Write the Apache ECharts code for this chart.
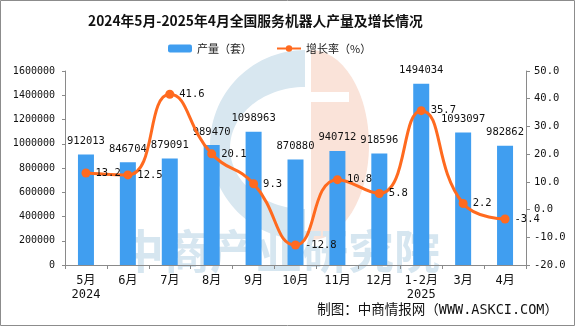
<!DOCTYPE html>
<html>
<head>
<meta charset="utf-8">
<script src="https://cdn.jsdelivr.net/npm/echarts@6/dist/echarts.min.js"></script>
<style>html,body{margin:0;padding:0;background:#fff}#c{width:575px;height:326px}</style>
</head>
<body>
<div id="c"></div>
<script>
const categories = ['5月\n2024','6月','7月','8月','9月','10月','11月','12月','1-2月\n2025','3月','4月'];
const production = [912013, 846704, 879091, 989470, 1098963, 870880, 940712, 918596, 1494034, 1093097, 982862];
const growth = [13.2, 12.5, 41.6, 20.1, 9.3, -12.8, 10.8, 5.8, 35.7, 2.2, -3.4];
const leftTicks = {min: 0, max: 1600000, interval: 200000};
const rightTicks = {min: -20, max: 50, interval: 10};

const MONO = "'DejaVu Sans Mono', 'Noto Sans CJK SC', monospace";
const CJK = "'Noto Sans CJK SC', sans-serif";
const axisColor = '#8a8a8a';

// watermark logo outlines (decorative)
function arcPts(cx, cy, rx, ry, a0, a1, n) {
  const pts = [];
  for (let i = 0; i <= n; i++) {
    const a = (a0 + (a1 - a0) * i / n) * Math.PI / 180;
    pts.push([cx + rx * Math.cos(a), cy + ry * Math.sin(a)]);
  }
  return pts;
}
const blueC = arcPts(305, 145, 95, 95, 270, 90, 60).concat(arcPts(305, 148, 75, 61, 90, 270, 60));
const orangeD = arcPts(311, 145, 58, 95, -90, 90, 60);

const chart = echarts.init(document.getElementById('c'), null, {renderer: 'canvas'});
chart.setOption({
  animation: false,
  backgroundColor: '#fff',
  title: {
    text: '2024年5月-2025年4月全国服务机器人产量及增长情况',
    left: 83, top: 9,
    textStyle: {fontFamily: CJK, fontSize: 13.8, fontWeight: 'bold', color: '#111'}
  },
  legend: {
    left: 163, top: 38,
    itemWidth: 24, itemHeight: 8, itemGap: 24,
    textStyle: {fontFamily: CJK, fontSize: 11, color: '#222'},
    data: ['产量（套）', '增长率（%）']
  },
  grid: {left: 65, right: 49, top: 71, bottom: 61, containLabel: false},
  xAxis: {
    type: 'category',
    data: categories,
    boundaryGap: true,
    axisLine: {lineStyle: {color: axisColor, width: 1}},
    axisTick: {show: true, alignWithLabel: false, length: 4, lineStyle: {color: axisColor}},
    axisLabel: {interval: 0, margin: 9, color: '#111', fontFamily: MONO, fontSize: 12, lineHeight: 14}
  },
  yAxis: [
    {
      type: 'value', min: leftTicks.min, max: leftTicks.max, interval: leftTicks.interval,
      axisLine: {show: true, lineStyle: {color: axisColor}},
      axisTick: {show: true, length: 3, lineStyle: {color: axisColor}},
      splitLine: {show: false},
      axisLabel: {color: '#111', fontFamily: MONO, fontSize: 10, margin: 10,
        formatter: v => String(v)}
    },
    {
      type: 'value', min: rightTicks.min, max: rightTicks.max, interval: rightTicks.interval,
      position: 'right',
      axisLine: {show: true, lineStyle: {color: axisColor}},
      axisTick: {show: true, length: 4, lineStyle: {color: axisColor}},
      splitLine: {show: false},
      axisLabel: {color: '#111', fontFamily: MONO, fontSize: 10.5, margin: 8,
        formatter: v => v.toFixed(1)}
    }
  ],
  graphic: [
    {type: 'polygon', z: -10, silent: true,
      shape: {points: blueC},
      style: {fill: '#d8e7f0'}},
    {type: 'polygon', z: -10, silent: true,
      shape: {points: orangeD},
      style: {fill: '#fae3d9'}},
    {type: 'rect', z: -9, silent: true,
      shape: {x: 309, y: 92, width: 40, height: 10},
      style: {fill: '#fff'}},
    {type: 'text', z: -8, silent: true, left: 118, top: 228,
      style: {text: '中商产业研究院', fill: '#d6e6f0', font: "bold 46px 'Noto Sans CJK SC'"}},
    {type: 'text', silent: true, right: 17, top: 304,
      style: {text: '制图：中商情报网（WWW.ASKCI.COM）', fill: '#111', font: "13.5px 'DejaVu Sans Mono', 'Noto Sans CJK SC'"}},
    {type: 'rect', z: 100, silent: true,
      shape: {x: 0.5, y: 0.5, width: 574, height: 325},
      style: {fill: 'none', stroke: '#8c8c8c', lineWidth: 1}}
  ],
  series: [
    {
      name: '产量（套）', type: 'bar', yAxisIndex: 0,
      data: production, barWidth: 16,
      itemStyle: {color: '#409ef0'},
      label: {show: true, position: 'top', distance: 8, color: '#111', fontFamily: MONO, fontSize: 10.5}
    },
    {
      name: '增长率（%）', type: 'line', yAxisIndex: 1,
      data: growth, smooth: true,
      symbol: 'circle', symbolSize: 9,
      lineStyle: {color: '#ff6a1f', width: 3},
      itemStyle: {color: '#ff6a1f'},
      label: {show: true, position: 'right', distance: 5, color: '#111', fontFamily: MONO, fontSize: 10.5,
        formatter: p => p.value.toFixed(1)}
    }
  ]
});
</script>
</body>
</html>
